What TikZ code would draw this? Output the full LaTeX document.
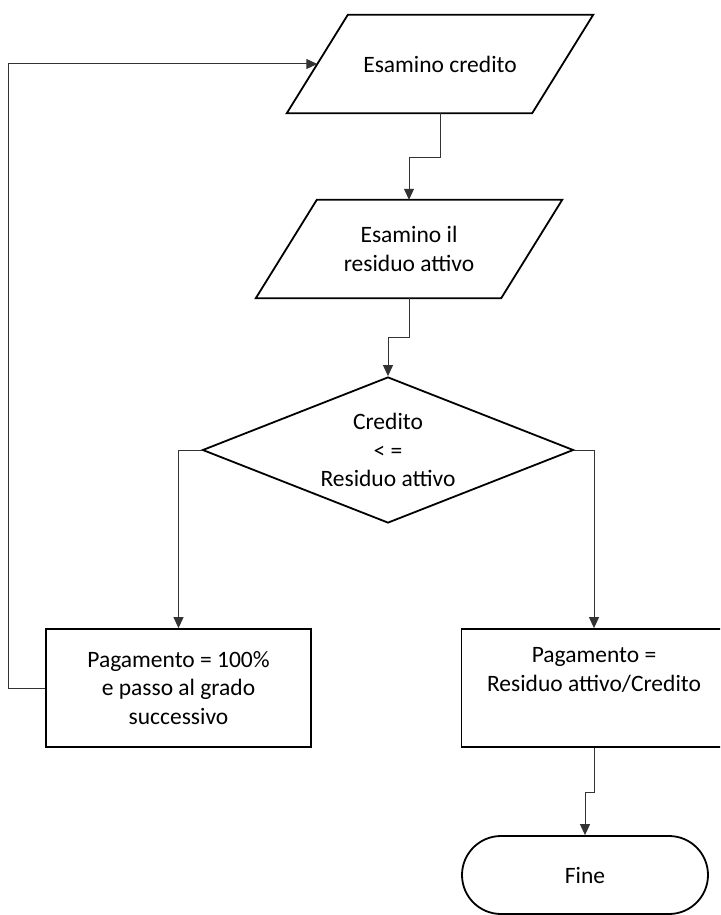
\documentclass[tikz,border=0pt]{standalone}
\usepackage{fontspec}
\setmainfont{Carlito}
\usetikzlibrary{shapes.geometric,arrows.meta}

\begin{document}
\begin{tikzpicture}[x=1pt,y=-1pt,>={Triangle[length=11pt,width=10pt]},
              font=\fontsize{23.5}{28.5}\selectfont,
              io node/.style={rectangle,minimum width=306pt,minimum height=98pt,
                inner sep=0pt,align=center},
              border/.style={draw,line width=1.8pt,line join=miter},
              decision node/.style={diamond,aspect=2.54,border,
                minimum width=371pt,minimum height=146pt,inner sep=0pt,
                align=center},
              process node/.style={rectangle,border,
                minimum width=265pt,minimum height=118pt,inner sep=0pt,
                align=center},
              end node/.style={rectangle,rounded corners=39pt,border,
                minimum width=246pt,minimum height=78pt},
              line/.style={->,line width=1pt,draw=black!80}]

            \useasboundingbox (0,0) rectangle (720,915);
            \clip (0,0) rectangle (720,915);

            \node[io node] (P1) at (440,64) {Esamino credito};
            \node[io node] (P2) at (409,249) {Esamino il\\residuo attivo};
            \node[decision node] (D) at (388,450) {Credito\\< =\\Residuo attivo};
            \node[process node] (LB) at (178.5,688)
              {Pagamento = 100\%\\e passo al grado\\successivo};
            \node[process node] (RB) at (594,688)
              {Pagamento =\\Residuo attivo/Credito\\\strut};
            \node[end node] (F) at (585,875) {Fine};

            % slanted input boxes
            \foreach \n in {P1,P2}
              \draw[border] ([xshift=61pt]\n.north west) -- (\n.north east)
                -- ([xshift=-61pt]\n.south east) -- (\n.south west) -- cycle;
            \coordinate (P1 in) at ([xshift=30.5pt]P1.west);

            \draw[line] (P1.south) -- ++(0,44) -| (P2.north);
            \draw[line] (P2.south) -- ++(0,39) -| (D.north);
            \draw[line] (D.west) -| (LB.north);
            \draw[line] (D.east) -| (RB.north);
            \draw[line] (RB.south) -- ++(0,45) -| (F.north);
            \draw[line] (LB.west) -- ++(-37,0) |- (P1 in);

\end{tikzpicture}
\end{document}
